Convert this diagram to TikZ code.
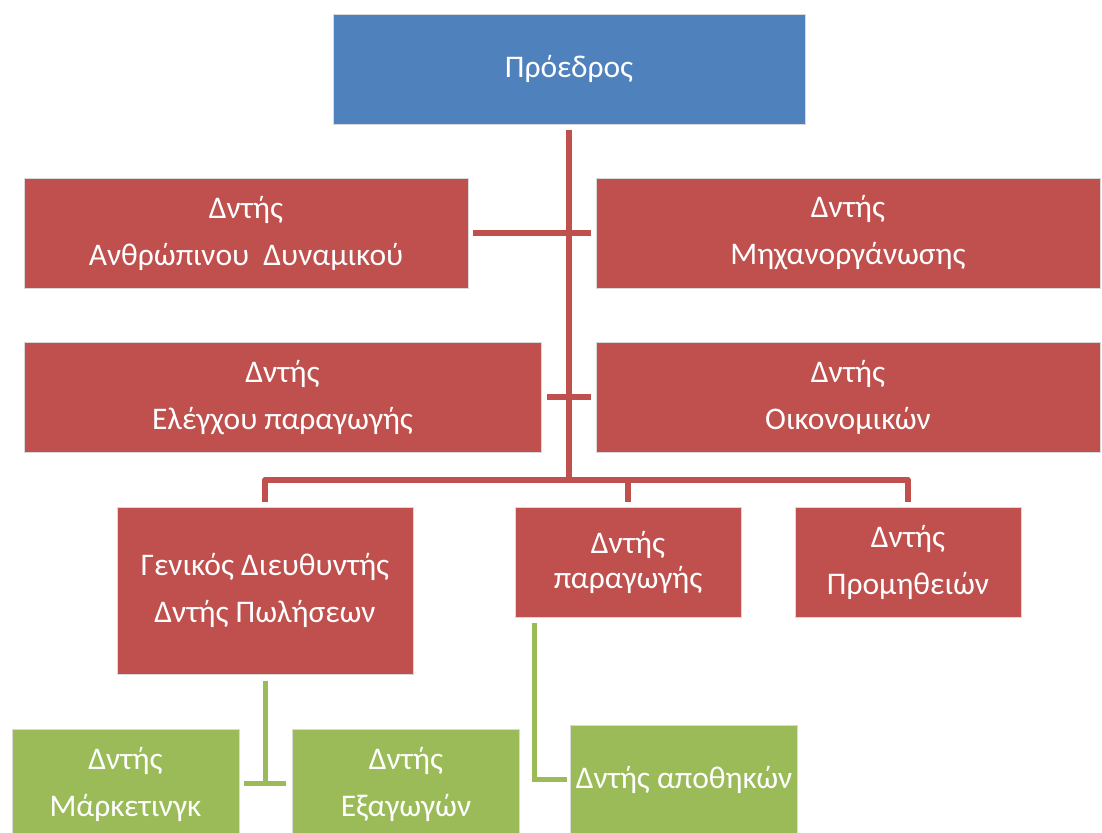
\documentclass[tikz,border=0pt]{standalone}
\usepackage{fontspec}
\setmainfont{Carlito}
\usepackage{tikz}
\usetikzlibrary{positioning}

\definecolor{chairblue}{HTML}{4F81BD}
\definecolor{deptred}{HTML}{C0504D}
\definecolor{subgreen}{HTML}{9BBB59}

\tikzset{
    box/.style={draw=white!85!black, line width=0.6pt, text=white, align=center,
        inner sep=0pt, font=\fontsize{31.5}{47}\selectfont},
    chairbox/.style={box, fill=chairblue, minimum width=472, minimum height=110},
    deptbox/.style={box, fill=deptred, minimum height=110},
    subbox/.style={box, fill=subgreen, minimum width=227, minimum height=110},
    redline/.style={draw=deptred, line width=6pt},
    greenline/.style={draw=subgreen, line width=5pt}
}

\begin{document}
\begin{tikzpicture}[x=1pt, y=1pt]
        \useasboundingbox (0,0) rectangle (1102,832);

        \node[chairbox]                        (chair) at (569,763)   {Πρόεδρος};
        \node[deptbox, minimum width=444]      (hr)    at (246,599)   {Δντής\\Ανθρώπινου\ \ Δυναμικού};
        \node[deptbox, minimum width=504]      (mech)  at (848,599)   {Δντής\\Μηχανοργάνωσης};
        \node[deptbox, minimum width=517]      (qc)    at (282.5,434.5) {Δντής\\Ελέγχου παραγωγής};
        \node[deptbox, minimum width=504]      (fin)   at (848,434.5) {Δντής\\Οικονομικών};
        \node[deptbox, minimum width=296, minimum height=167] (gm) at (265,241.5) {Γενικός Διευθυντής\\Δντής Πωλήσεων};
        \node[deptbox, minimum width=226, font=\fontsize{31.5}{35}\selectfont] (prod) at (628,270) {Δντής\\παραγωγής};
        \node[deptbox, minimum width=226]      (supp)  at (908,270)   {Δντής\\Προμηθειών};
        \node[subbox]                          (mkt)   at (125.5,48)  {Δντής\\Μάρκετινγκ};
        \node[subbox]                          (exp)   at (406,48)    {Δντής\\Εξαγωγών};
        \node[subbox]                          (store) at (684,52)    {Δντής αποθηκών};

        % trunk and branches
        \coordinate (bus) at (chair.south |- 0,352);
        \draw[redline] ([yshift=-6pt]chair.south) -- (bus);
        \draw[redline] ([xshift=5pt]hr.east) -- ([xshift=-5pt]mech.west);
        \draw[redline] ([xshift=6pt]qc.east) -- ([xshift=-5pt]fin.west);
        \draw[redline, line join=round] ([yshift=5pt]gm.north) |- (bus) -| ([yshift=5pt]supp.north);
        \draw[redline] ([yshift=5pt]prod.north) -- (prod.north |- bus);

        % lower level
        \draw[greenline] ([yshift=-7pt]gm.south) -- (gm.south |- mkt.east);
        \draw[greenline] ([xshift=5pt]mkt.east) -- ([xshift=-6pt]exp.west);
        \draw[greenline] ([xshift=20pt, yshift=-6pt]prod.south west) |- ([xshift=-3pt]store.west);
    \end{tikzpicture}
\end{document}
